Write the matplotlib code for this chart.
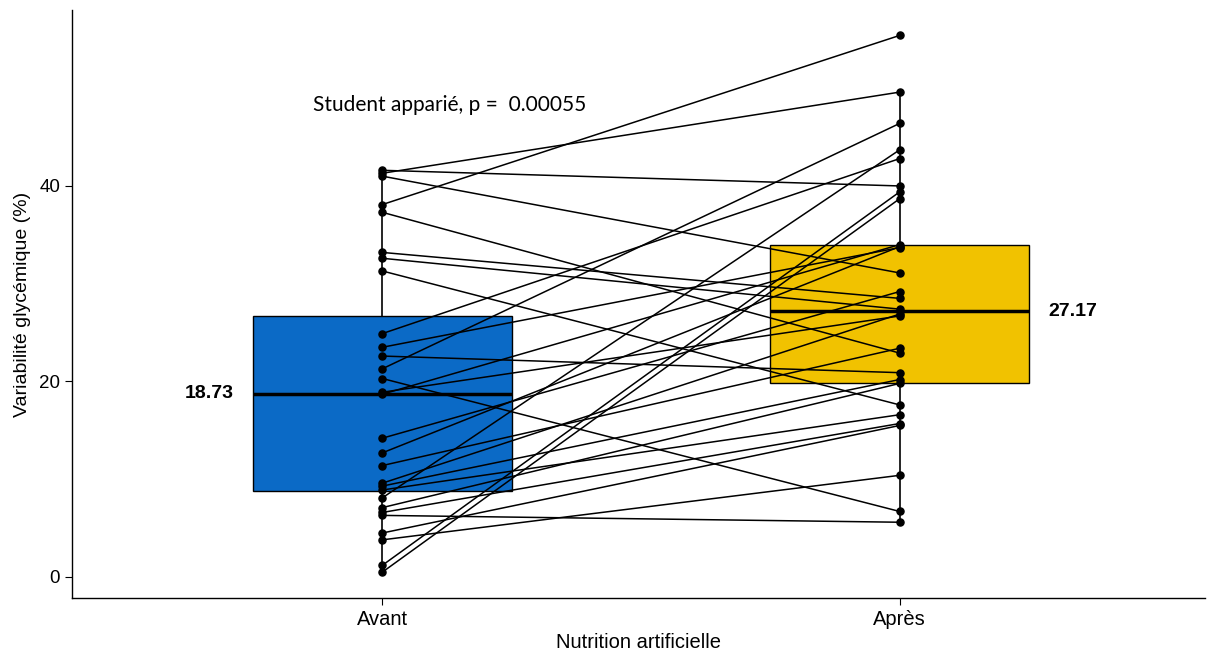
import matplotlib
matplotlib.use("Agg")
import matplotlib.pyplot as plt

plt.rcParams['font.family'] = ['Liberation Sans', 'DejaVu Sans']

# Data
categories = ["Avant", "Après"]
avant = [41.6, 41.3, 41.0, 38.1, 37.3, 33.2, 32.6, 31.3, 24.9, 23.5, 22.6, 21.3,
         20.3, 18.7, 18.9, 14.2, 12.7, 11.4, 9.6, 9.3, 8.9, 8.1, 7.1, 6.6, 6.3,
         4.5, 3.8, 1.2, 0.5]
apres = [40.0, 49.6, 31.1, 55.4, 22.9, 28.5, 27.4, 17.6, 42.8, 33.7, 20.9, 46.4,
         6.7, 34.0, 26.7, 29.2, 33.8, 23.4, 26.9, 20.2, 16.6, 43.7, 19.8, 15.7,
         5.6, 15.5, 10.4, 39.4, 38.7]
centers = [18.73, 27.17]
q1 = [8.8, 19.8]
q3 = [26.7, 34.0]
whis_lo = [0.5, 5.6]
whis_hi = [41.6, 49.6]
box_colors = ["#0B6AC6", "#F1C200"]
center_labels = ["18.73", "27.17"]
annotation = "Student apparié, p =  0.00055"

fig = plt.figure(figsize=(12.08, 6.57), dpi=100)
ax = fig.add_axes([0.0596, 0.0898, 0.9379, 0.895])

stats = []
for i in range(2):
    stats.append(dict(med=centers[i], q1=q1[i], q3=q3[i],
                      whislo=whis_lo[i], whishi=whis_hi[i], fliers=[]))
bp = ax.bxp(stats, positions=[1, 2], widths=0.5, patch_artist=True,
            showcaps=False, showfliers=False,
            boxprops=dict(edgecolor="black", linewidth=1.0),
            whiskerprops=dict(color="black", linewidth=1.2),
            medianprops=dict(color="black", linewidth=2.5), zorder=1)
for patch, c in zip(bp['boxes'], box_colors):
    patch.set_facecolor(c)

for a, b in zip(avant, apres):
    ax.plot([1, 2], [a, b], color="black", linewidth=1.1, zorder=3)
ax.scatter([1] * len(avant), avant, s=26, color="black", zorder=4)
ax.scatter([2] * len(apres), apres, s=26, color="black", zorder=4)

ax.text(0.665, centers[0], center_labels[0], ha="center", va="center",
        fontsize=14, fontweight="bold")
ax.text(2.335, centers[1], center_labels[1], ha="center", va="center",
        fontsize=14, fontweight="bold")
ax.text(0.865, 48.3, annotation, ha="left", va="center", fontsize=15,
        family=["Lato", "DejaVu Sans"])

ax.set_xlim(0.4, 2.59)
ax.set_ylim(-2.15, 58.0)
ax.set_xticks([1, 2])
ax.set_xticklabels(categories, fontsize=14.5)
ax.set_yticks([0, 20, 40])
ax.tick_params(axis="y", labelsize=13.5)
ax.tick_params(length=5)
ax.set_xlabel("Nutrition artificielle", fontsize=14.5, labelpad=3)
ax.set_ylabel("Variabilité glycémique (%)", fontsize=14, labelpad=6)
for s in ["top", "right"]:
    ax.spines[s].set_visible(False)
for s in ["left", "bottom"]:
    ax.spines[s].set_linewidth(1.0)

fig.savefig("out.png", dpi=100)
